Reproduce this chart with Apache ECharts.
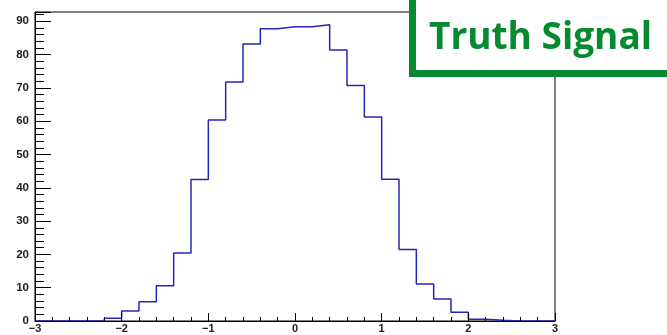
<!DOCTYPE html>
<html>
<head>
<meta charset="utf-8">
<script src="https://cdn.jsdelivr.net/npm/echarts@6/dist/echarts.min.js"></script>
<style>
html,body{margin:0;padding:0;background:#fff;}
#chart{width:667px;height:335px;}
</style>
</head>
<body>
<div id="chart"></div>
<script>
// Histogram: 30 bins of width 0.2 from -3 to 3
var xMin = -3;
var xMax = 3;
var binWidth = 0.2;
var counts = [0, 0, 0, 0, 0.8, 3.0, 5.8, 10.6, 20.4, 42.5, 60.4, 71.8, 83.2, 87.8, 88.4,
              88.4, 89.0, 81.4, 70.7, 61.3, 42.6, 21.5, 11.1, 6.6, 2.6, 0.5, 0.2, 0, 0, 0];
var xTicks = [-3, -2, -1, 0, 1, 2, 3];
var yTicks = [0, 10, 20, 30, 40, 50, 60, 70, 80, 90];
var yMax = 92.8;
var title = 'Truth Signal';

// step outline points
var pts = [];
for (var i = 0; i < counts.length; i++) {
  var lo = +(xMin + i * binWidth).toFixed(4);
  var hi = +(xMin + (i + 1) * binWidth).toFixed(4);
  pts.push([lo, counts[i]]);
  pts.push([hi, counts[i]]);
}

var chart = echarts.init(document.getElementById('chart'), null, {renderer: 'canvas'});
var font = '"Liberation Sans", Arial, sans-serif';
chart.setOption({
  animation: false,
  grid: {left: 35, right: 112, top: 12, bottom: 14, show: true, borderColor: '#000', borderWidth: 1, backgroundColor: 'transparent'},
  xAxis: {
    type: 'value', min: xMin, max: xMax, interval: 1, z: 5,
    axisLine: {show: true, onZero: false, lineStyle: {color: '#000', width: 1}},
    axisTick: {show: true, inside: true, length: 8, lineStyle: {color: '#000'}},
    minorTick: {show: true, splitNumber: 5, length: 4, lineStyle: {color: '#000'}},
    splitLine: {show: false},
    axisLabel: {
      margin: 2, fontSize: 11, fontWeight: 'bold', color: '#222', fontFamily: font,
      formatter: function (v) { return xTicks.indexOf(v) >= 0 ? String(v).replace('-', '\u2212') : ''; }
    }
  },
  yAxis: {
    type: 'value', min: 0, max: yMax, interval: 10, z: 5,
    axisLine: {show: true, onZero: false, lineStyle: {color: '#000', width: 1}},
    axisTick: {show: true, inside: true, length: 16, lineStyle: {color: '#000'}},
    minorTick: {show: true, splitNumber: 5, length: 9, lineStyle: {color: '#000'}},
    splitLine: {show: false},
    axisLabel: {
      margin: 6, fontSize: 11.5, fontWeight: 'bold', color: '#222', fontFamily: font,
      showMaxLabel: false,
      formatter: function (v) { return yTicks.indexOf(v) >= 0 ? String(v) : ''; }
    }
  },
  series: [{
    type: 'line', data: pts, showSymbol: false, symbol: 'none', z: 2,
    lineStyle: {color: '#2626b8', width: 1.5},
    silent: true
  }],
  graphic: [
    {
      type: 'rect', z: 100,
      shape: {x: 412.5, y: -10, width: 300, height: 83.5},
      style: {fill: '#fff', stroke: '#06892f', lineWidth: 7}
    },
    {
      type: 'text', z: 101,
      style: {
        x: 429, y: 38, text: title, fill: '#06892f',
        font: 'bold 37px "Open Sans", Lato, sans-serif',
        verticalAlign: 'middle', align: 'left'
      }
    }
  ]
});
</script>
</body>
</html>
